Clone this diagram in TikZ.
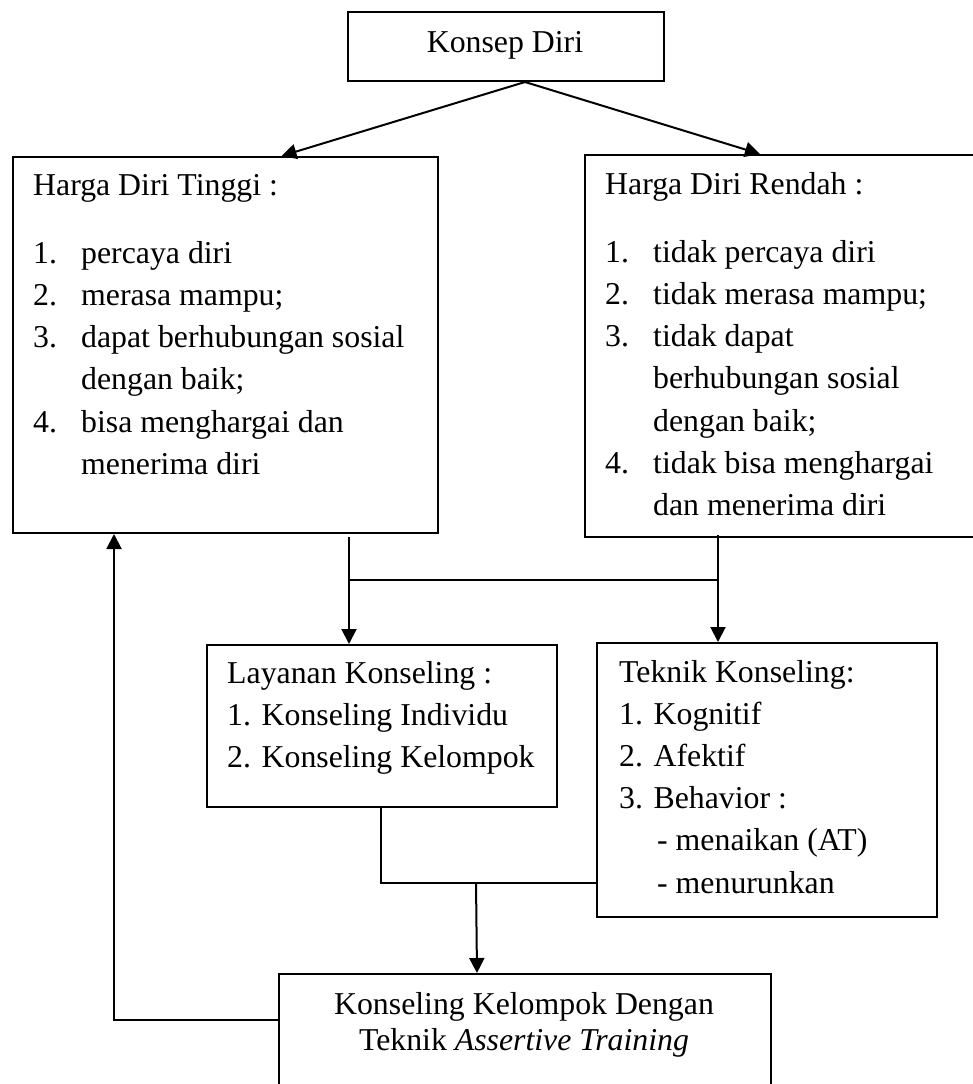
\documentclass[tikz,border=0pt]{standalone}
\usepackage{fontspec}
\setmainfont{Liberation Serif}
\usetikzlibrary{arrows.meta,calc}
\begin{document}
\begin{tikzpicture}[x=1pt,y=-1pt,
  box/.style={draw, line width=2pt, inner sep=0pt, anchor=north west},
  txt/.style={inner sep=0pt, anchor=base west, font=\fontsize{31.8pt}{42.2pt}\selectfont},
  ctxt/.style={txt, anchor=base},
  conn/.style={line width=2pt},
  arr/.style={conn, -{Triangle[length=15pt,width=15pt]}}]
\useasboundingbox (0,0) rectangle (972,1084);
\fill[white] (0,0) rectangle (972,1084);

% boxes
\node[box, minimum width=316pt, minimum height=69pt] (konsep) at (347,11) {};
\node[box, minimum width=425pt, minimum height=376pt] (tinggi) at (12,156) {};
\node[box, minimum width=406pt, minimum height=382pt] (rendah) at (584,154) {};
\node[box, minimum width=350pt, minimum height=162pt] (layanan) at (206,644) {};
\node[box, minimum width=340pt, minimum height=274pt] (teknik) at (596,642) {};
\node[box, minimum width=492pt, minimum height=140pt] (akhir) at (278,973) {};

% texts
\node[ctxt] (konsepT) at (505,52) {Konsep Diri};
\node[txt] (tinggiT) at (33,195) {\begin{tabular}[t]{@{}p{48pt}@{}l@{}}
\multicolumn{2}{@{}l@{}}{Harga Diri Tinggi :}\\[26pt]
1. & percaya diri\\
2. & merasa mampu;\\
3. & dapat berhubungan sosial\\
   & dengan baik;\\
4. & bisa menghargai dan\\
   & menerima diri
\end{tabular}};
\node[txt] (rendahT) at (605,194) {\begin{tabular}[t]{@{}p{48pt}@{}l@{}}
\multicolumn{2}{@{}l@{}}{Harga Diri Rendah :}\\[26pt]
1. & tidak percaya diri\\
2. & tidak merasa mampu;\\
3. & tidak dapat\\
   & berhubungan sosial\\
   & dengan baik;\\
4. & tidak bisa menghargai\\
   & dan menerima diri
\end{tabular}};
\node[txt] (layananT) at (227,683) {\begin{tabular}[t]{@{}l@{}}
Layanan Konseling :\\
1. Konseling Individu\\
2. Konseling Kelompok
\end{tabular}};
\node[txt] (teknikT) at (619,682) {\begin{tabular}[t]{@{}l@{}}
Teknik Konseling:\\
1. Kognitif\\
2. Afektif\\
3. Behavior :\\
\hspace*{38pt}- menaikan (AT)\\
\hspace*{38pt}- menurunkan
\end{tabular}};
\node[ctxt, font=\fontsize{31.8pt}{36pt}\selectfont] (akhirT) at (524,1014) {\begin{tabular}[t]{@{}c@{}}
Konseling Kelompok Dengan\\
Teknik \textit{Assertive Training}
\end{tabular}};

% junction coordinates
\coordinate (jL) at (348,580);
\coordinate (jR) at (717,580);
\coordinate (jB) at (476,882);

% connectors
\draw[arr] ([xshift=19pt]konsep.south) -- ([xshift=56pt]tinggi.north);
\draw[arr] ([xshift=19pt]konsep.south) -- ([xshift=-28pt]rendah.north);
\draw[arr] ([xshift=123.5pt,yshift=-3pt]tinggi.south) -- ([xshift=-33pt]layanan.north);
\draw[arr] ([xshift=-70pt,yshift=3pt]rendah.south) -- ([xshift=-49pt]teknik.north);
\draw[conn] (jL) -- (jR);
\draw[conn] ([xshift=-1pt]layanan.south) |- ([yshift=-103pt]teknik.west);
\draw[arr] (jB) -- ([xshift=-48pt]akhir.north);
\draw[arr] ([yshift=-47pt]akhir.north west) -| ([xshift=-111.5pt]tinggi.south);
\end{tikzpicture}
\end{document}
